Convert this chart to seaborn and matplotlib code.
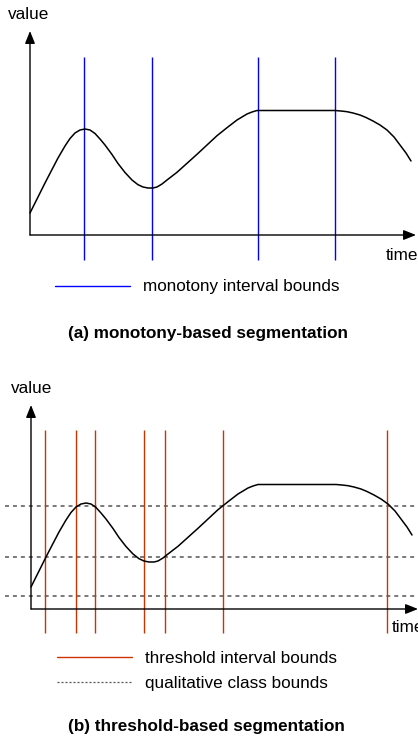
import matplotlib
matplotlib.use("Agg")
import matplotlib.pyplot as plt
from matplotlib.lines import Line2D
import pandas as pd
import seaborn as sns

sns.set_theme(style="white")
plt.rcParams["font.family"] = ["Liberation Sans", "DejaVu Sans"]
plt.rcParams["text.color"] = "black"

# Example signal (time, value) shared by both panels
time = [0, 8, 15, 22, 28, 35, 40, 45, 50, 55, 60, 65, 70, 75, 82, 88, 95,
        102, 108, 113, 118, 123, 127, 132, 137, 147, 157, 167, 177, 187, 197,
        207, 217, 222, 227, 305, 311, 317, 323, 330, 336, 343, 350, 357, 364,
        370, 376, 381]
value = [22, 38, 52, 65.5, 77, 89, 96.5, 102, 105, 106, 105, 101.5, 96, 90,
         80.5, 71.5, 62.5, 55, 50.3, 48, 47, 47, 48, 51, 55, 62.7, 71.7, 80.7,
         90, 99.3, 107.3, 115, 121, 123, 124.5, 124.5, 124, 123.3, 122, 120,
         117.5, 114, 110, 105, 98, 90, 82, 74]

# Segment bounds
monotony_bounds = [54, 121.7, 228, 305]
threshold_bounds = [13.7, 45.3, 63.7, 113.3, 134, 191.7, 355.7]
class_bounds = [103, 52, 13]

BLUE = "#0000ff"
RED = "#cc3300"
GRAY = "#555555"
FS = 12.3

signal = pd.DataFrame({"time": time, "value": value})

W, H, DPI = 418, 740, 100
fig = plt.figure(figsize=(W / DPI, H / DPI), dpi=DPI)


def make_axes(top_px, height_px, ox, oy):
    """Axes spanning a horizontal band, with 1 data unit = 1 pixel and the
    origin of the time/value axes at pixel (ox, oy)."""
    ax = fig.add_axes([0, 1 - (top_px + height_px) / H, 1, height_px / H])
    ax.set_xlim(-ox, W - ox)
    ax.set_ylim(oy - (top_px + height_px), oy - top_px)
    ax.axis("off")
    return ax


def draw_axes_arrows(ax, x_end, y_end):
    props = dict(arrowstyle="-|>,head_length=0.75,head_width=0.3",
                 color="black", lw=1.0, shrinkA=0, shrinkB=0,
                 mutation_scale=10)
    ax.annotate("", xy=(x_end, 0), xytext=(0, 0), arrowprops=props,
                annotation_clip=False)
    ax.annotate("", xy=(0, y_end), xytext=(0, 0), arrowprops=props,
                annotation_clip=False)


def draw_signal(ax):
    sns.lineplot(data=signal, x="time", y="value", ax=ax, color="black",
                 lw=1.1, sort=False, legend=False)
    ax.axis("off")


def pix(ax, px, py):
    """Figure pixel -> data coordinates of a panel."""
    x0 = ax.get_xlim()[0]
    y1 = ax.get_ylim()[1]
    top = (1 - ax.get_position().y1) * H
    return px + x0, y1 - (py - top)


# ---------------- (a) monotony-based segmentation ----------------
ax1 = make_axes(0, 370, 30, 235)
ax1.vlines(monotony_bounds, -25, 178, color=BLUE, lw=1.0)
draw_signal(ax1)
ax1.set_xlim(-30, W - 30)
ax1.set_ylim(235 - 370, 235)
draw_axes_arrows(ax1, 386, 204)

ax1.text(*pix(ax1, 8, 19), "value", fontsize=FS, ha="left", va="baseline")
ax1.text(*pix(ax1, 385.5, 260), "time", fontsize=FS, ha="left", va="baseline")
ax1.text(*pix(ax1, 208, 338), "(a) monotony-based segmentation",
         fontsize=FS, fontweight="bold", ha="center", va="baseline")

h1 = [Line2D([], [], color=BLUE, lw=1.0)]
fig.legend(h1, ["monotony interval bounds"], loc="center left",
           bbox_to_anchor=(55 / W, 1 - 287 / H), frameon=False,
           fontsize=FS, handlelength=4.4, handletextpad=0.75,
           borderpad=0, borderaxespad=0)

# ---------------- (b) threshold-based segmentation ----------------
ax2 = make_axes(370, 370, 31, 609)
ax2.hlines(class_bounds, -26, W - 31, color=GRAY, lw=1.1,
           linestyles=(0, (2.6, 2.6)))
ax2.vlines(threshold_bounds, -24, 179, color=RED, lw=1.0)
draw_signal(ax2)
ax2.set_xlim(-31, W - 31)
ax2.set_ylim(609 - 740, 609 - 370)
draw_axes_arrows(ax2, 387, 204)

ax2.text(*pix(ax2, 10.5, 393), "value", fontsize=FS, ha="left", va="baseline")
ax2.text(*pix(ax2, 392, 632), "time", fontsize=FS, ha="left", va="baseline")
ax2.text(*pix(ax2, 206.5, 731.5), "(b) threshold-based segmentation",
         fontsize=FS, fontweight="bold", ha="center", va="baseline")

h2 = [Line2D([], [], color=RED, lw=1.0),
      Line2D([], [], color=GRAY, lw=0.9, linestyle=(0, (1.6, 1.6)))]
fig.legend(h2, ["threshold interval bounds", "qualitative class bounds"],
           loc="center left", bbox_to_anchor=(57 / W, 1 - 671 / H),
           frameon=False, fontsize=FS, handlelength=4.4, handletextpad=0.75,
           labelspacing=0.6, borderpad=0, borderaxespad=0)

fig.savefig("out.png", dpi=DPI)
